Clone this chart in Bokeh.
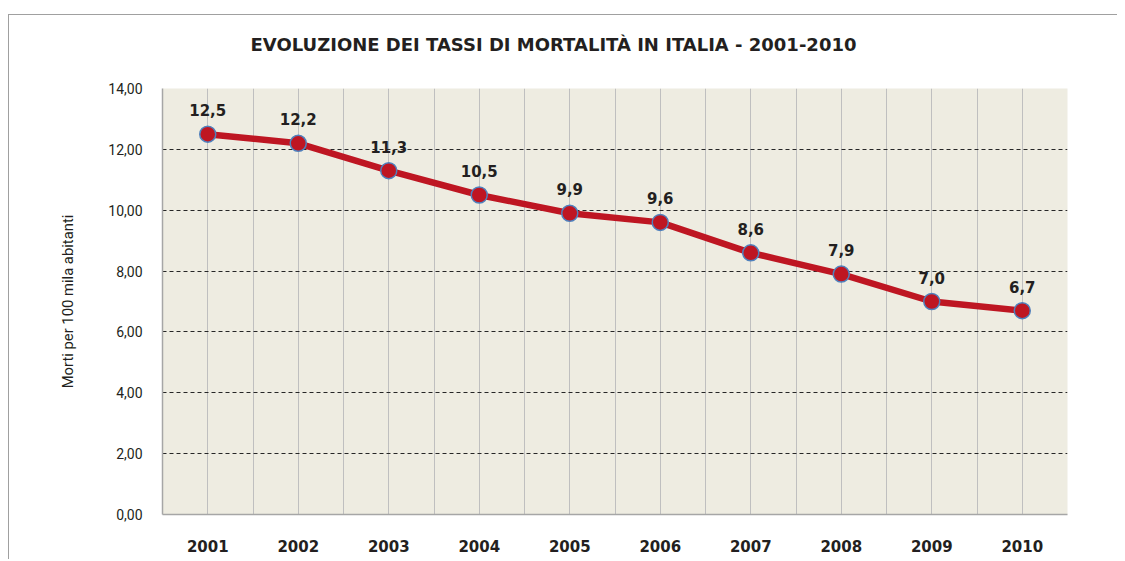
from bokeh.plotting import figure
from bokeh.models import FixedTicker, ColumnDataSource, LabelSet, Title
from bokeh.core.properties import value
from bokeh.embed import file_html
from bokeh.resources import INLINE

title_text = "EVOLUZIONE  DEI TASSI DI MORTALITÀ IN ITALIA - 2001-2010"
years = ["2001", "2002", "2003", "2004", "2005", "2006", "2007", "2008", "2009", "2010"]
rates = [12.5, 12.2, 11.3, 10.5, 9.9, 9.6, 8.6, 7.9, 7.0, 6.7]
y_ticks = [0, 2, 4, 6, 8, 10, 12, 14]
y_tick_labels = ["0,00", "2,00", "4,00", "6,00", "8,00", "10,00", "12,00", "14,00"]
point_labels = [f"{v:.1f}".replace(".", ",") for v in rates]

x = list(range(1, len(years) + 1))
n = len(years)

p = figure(width=1109, height=545, x_range=(0.5, n + 0.5), y_range=(0, 14),
           output_backend="svg", toolbar_location=None,
           min_border_left=153, min_border_right=51, min_border_top=73, min_border_bottom=46)
p.margin = (14, 0, 0, 8)
p.styles = {"border-top": "1px solid #A0A0A0", "border-left": "1px solid #A0A0A0"}

p.background_fill_color = "#EEECE1"
p.border_fill_color = "white"
p.outline_line_color = None

# spacer between frame and title
p.add_layout(Title(text=" ", text_font_size="1px", standoff=26), "above")

# title
p.title.text = title_text
p.title.align = "left"
p.title.offset = 88
p.title.standoff = 10
p.title.text_font = "DejaVu Sans"
p.title.text_font_style = "bold"
p.title.text_font_size = "18px"
p.title.text_color = "#231F20"

# grids
p.xgrid.ticker = FixedTicker(ticks=[0.5 * k for k in range(2, 2 * n + 2)])
p.xgrid.grid_line_color = "#BFBFBF"
p.xgrid.grid_line_width = 1
p.ygrid.ticker = FixedTicker(ticks=y_ticks[1:])
p.ygrid.grid_line_color = "#262626"
p.ygrid.grid_line_dash = "4 3"
p.ygrid.grid_line_width = 1

# axes
p.xaxis.ticker = FixedTicker(ticks=x)
p.xaxis.major_label_overrides = {i: y for i, y in zip(x, years)}
p.yaxis.ticker = FixedTicker(ticks=y_ticks)
p.yaxis.major_label_overrides = {t: l for t, l in zip(y_ticks, y_tick_labels)}
for ax in (p.xaxis, p.yaxis):
    ax.axis_line_color = "#A6A6A6"
    ax.axis_line_width = 1.5
    ax.major_tick_line_color = None
    ax.minor_tick_line_color = None

p.xaxis.major_label_text_font = "DejaVu Sans"
p.xaxis.major_label_text_font_style = "bold"
p.xaxis.major_label_text_font_size = "15px"
p.xaxis.major_label_text_color = "#231F20"
p.xaxis.major_label_standoff = 19

p.yaxis.major_label_text_font = "Roboto"
p.yaxis.major_label_text_font_size = "14px"
p.yaxis.major_label_text_color = "#231F20"
p.yaxis.major_label_standoff = 14
p.yaxis.axis_label = "Morti per 100 mila abitanti"
p.yaxis.axis_label_text_font = "Roboto"
p.yaxis.axis_label_text_font_style = "normal"
p.yaxis.axis_label_text_font_size = "14.8px"
p.yaxis.axis_label_text_color = "#231F20"
p.yaxis.axis_label_standoff = 28

src = ColumnDataSource(dict(x=x, y=rates, label=point_labels))

p.line("x", "y", source=src, line_color="#BE1622", line_width=6.5)
p.scatter("x", "y", source=src, size=16, fill_color="#BE1622",
          line_color="#4F81BD", line_width=1.5)

labels = LabelSet(x="x", y="y", text="label", source=src, y_offset=18,
                  text_align="center", text_baseline="alphabetic",
                  text_font=value("DejaVu Sans"), text_font_style="bold",
                  text_font_size="15px", text_color="#231F20")
p.add_layout(labels)

open("out.html", "w").write(file_html(p, INLINE))
